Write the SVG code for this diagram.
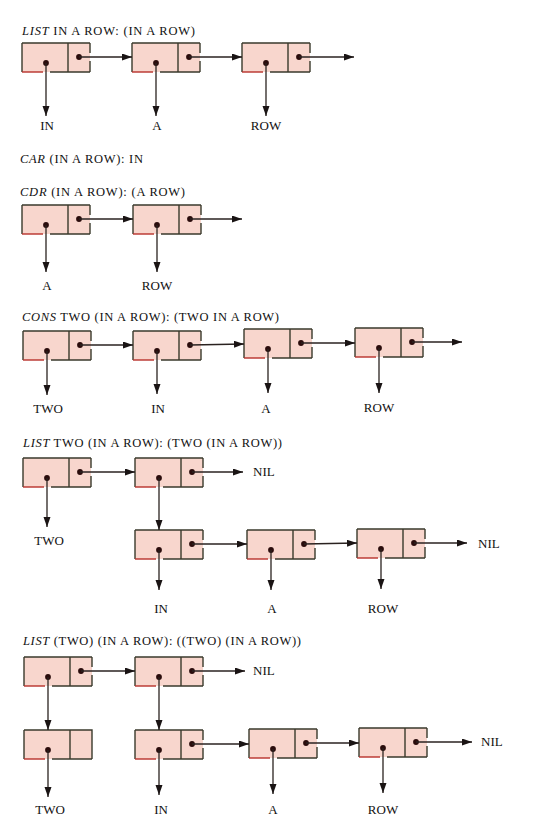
<svg xmlns="http://www.w3.org/2000/svg" xmlns:xlink="http://www.w3.org/1999/xlink" width="533" height="833" viewBox="0 0 533 833">
<style>
text{font-family:"Liberation Serif","Times New Roman",serif;fill:#111}
.t{font-size:12.5px}
.l{font-size:13px;text-anchor:middle}
.n{font-size:13px}
.c line{stroke:#2a2220;stroke-width:1.3;marker-end:url(#ah)}
</style>
<defs>
<marker id="ah" markerUnits="userSpaceOnUse" markerWidth="11" markerHeight="8" refX="10" refY="3.5" orient="auto">
<path d="M0,0 L10,3.5 L0,7 Z" fill="#1a1414"/>
</marker>
<g id="cons">
<rect width="68" height="29" fill="#f8d6cd"/>
<path d="M0,0 H68 M0,0 V29 M46,0 V29 M68,0 V10 M68,18 V29 M28,29 H68" stroke="#3a3a2c" stroke-width="1.4" fill="none"/>
<path d="M0,29 H21" stroke="#b8302a" stroke-width="1.4"/>
<circle cx="24" cy="20" r="2.9" fill="#2a0c0c"/>
<circle cx="57" cy="14" r="2.9" fill="#2a0c0c"/>
</g>
<g id="consEnd">
<rect width="68" height="29" fill="#f8d6cd"/>
<path d="M0,0 H68 V29 M0,0 V29 M46,0 V29 M28,29 H68" stroke="#3a3a2c" stroke-width="1.4" fill="none"/>
<path d="M0,29 H21" stroke="#b8302a" stroke-width="1.4"/>
<circle cx="24" cy="20" r="2.9" fill="#2a0c0c"/>
</g>
</defs>
<rect width="533" height="833" fill="#ffffff"/>

<!-- Titles -->
<g id="titles">
<text class="t" x="22" y="35" textLength="173" lengthAdjust="spacing"><tspan font-style="italic">LIST</tspan> IN A ROW: (IN A ROW)</text>
<text class="t" x="20" y="163" textLength="123" lengthAdjust="spacing"><tspan font-style="italic">CAR</tspan> (IN A ROW): IN</text>
<text class="t" x="20" y="196" textLength="165" lengthAdjust="spacing"><tspan font-style="italic">CDR</tspan> (IN A ROW): (A ROW)</text>
<text class="t" x="22" y="321" textLength="257" lengthAdjust="spacing"><tspan font-style="italic">CONS</tspan> TWO (IN A ROW): (TWO IN A ROW)</text>
<text class="t" x="23" y="447" textLength="259" lengthAdjust="spacing"><tspan font-style="italic">LIST</tspan> TWO (IN A ROW): (TWO (IN A ROW))</text>
<text class="t" x="23" y="645" textLength="278" lengthAdjust="spacing"><tspan font-style="italic">LIST</tspan> (TWO) (IN A ROW): ((TWO) (IN A ROW))</text>
</g>

<!-- Section 1 -->
<g id="s1n1"><use xlink:href="#cons" x="22" y="43"/></g>
<g id="s1n2"><use xlink:href="#cons" x="132" y="43"/></g>
<g id="s1n3"><use xlink:href="#cons" x="242" y="43"/></g>
<g id="s1c" class="c">
<line x1="79" y1="57" x2="132" y2="57"/>
<line x1="189" y1="57" x2="242" y2="57"/>
<line x1="299" y1="57" x2="354" y2="57"/>
<line x1="46" y1="63" x2="46" y2="116"/>
<line x1="156" y1="63" x2="156" y2="116"/>
<line x1="266" y1="63" x2="266" y2="116"/>
</g>
<g id="s1l">
<text class="l" x="47" y="130">IN</text>
<text class="l" x="157" y="130">A</text>
<text class="l" x="266" y="130">ROW</text>
</g>

<!-- Section 2 -->
<g id="s2n1"><use xlink:href="#cons" x="22" y="205"/></g>
<g id="s2n2"><use xlink:href="#cons" x="133" y="205"/></g>
<g id="s2c" class="c">
<line x1="79" y1="219" x2="133" y2="219"/>
<line x1="190" y1="219" x2="242" y2="219"/>
<line x1="46" y1="225" x2="46" y2="272"/>
<line x1="157" y1="225" x2="157" y2="272"/>
</g>
<g id="s2l">
<text class="l" x="47" y="290">A</text>
<text class="l" x="157" y="290">ROW</text>
</g>

<!-- Section 3 -->
<g id="s3n1"><use xlink:href="#cons" x="23" y="331"/></g>
<g id="s3n2"><use xlink:href="#cons" x="133" y="331"/></g>
<g id="s3n3"><use xlink:href="#cons" x="244" y="329"/></g>
<g id="s3n4"><use xlink:href="#cons" x="355" y="328"/></g>
<g id="s3c" class="c">
<line x1="80" y1="345" x2="133" y2="345"/>
<line x1="190" y1="345" x2="244" y2="344"/>
<line x1="301" y1="343" x2="355" y2="343"/>
<line x1="412" y1="342" x2="462" y2="342"/>
<line x1="47" y1="351" x2="47" y2="395"/>
<line x1="157" y1="351" x2="157" y2="394"/>
<line x1="268" y1="349" x2="268" y2="393"/>
<line x1="379" y1="348" x2="379" y2="393"/>
</g>
<g id="s3l">
<text class="l" x="48" y="413">TWO</text>
<text class="l" x="158" y="413">IN</text>
<text class="l" x="266" y="413">A</text>
<text class="l" x="379" y="412">ROW</text>
</g>

<!-- Section 4 -->
<g id="s4n1"><use xlink:href="#cons" x="23" y="458"/></g>
<g id="s4n2"><use xlink:href="#cons" x="135" y="458"/></g>
<g id="s4n3"><use xlink:href="#cons" x="135" y="530"/></g>
<g id="s4n4"><use xlink:href="#cons" x="247" y="530"/></g>
<g id="s4n5"><use xlink:href="#cons" x="357" y="529"/></g>
<g id="s4c" class="c">
<line x1="80" y1="472" x2="135" y2="472"/>
<line x1="192" y1="472" x2="243" y2="472"/>
<line x1="47" y1="478" x2="47" y2="527"/>
<line x1="159" y1="478" x2="159" y2="530"/>
<line x1="192" y1="544" x2="247" y2="544"/>
<line x1="304" y1="544" x2="357" y2="543"/>
<line x1="414" y1="543" x2="467" y2="543"/>
<line x1="159" y1="550" x2="159" y2="590"/>
<line x1="271" y1="550" x2="271" y2="590"/>
<line x1="381" y1="549" x2="381" y2="589"/>
</g>
<g id="s4l">
<text class="n" x="253" y="476">NIL</text>
<text class="l" x="49" y="545">TWO</text>
<text class="n" x="478" y="548">NIL</text>
<text class="l" x="161" y="613">IN</text>
<text class="l" x="272" y="613">A</text>
<text class="l" x="383" y="613">ROW</text>
</g>

<!-- Section 5 -->
<g id="s5n1"><use xlink:href="#cons" x="24" y="657"/></g>
<g id="s5n2"><use xlink:href="#cons" x="135" y="657"/></g>
<g id="s5n3"><use xlink:href="#consEnd" x="24" y="730"/></g>
<g id="s5n4"><use xlink:href="#cons" x="135" y="730"/></g>
<g id="s5n5"><use xlink:href="#cons" x="249" y="729"/></g>
<g id="s5n6"><use xlink:href="#cons" x="359" y="728"/></g>
<g id="s5c" class="c">
<line x1="81" y1="671" x2="135" y2="671"/>
<line x1="192" y1="671" x2="245" y2="671"/>
<line x1="48" y1="677" x2="48" y2="730"/>
<line x1="159" y1="677" x2="159" y2="730"/>
<line x1="192" y1="744" x2="249" y2="744"/>
<line x1="306" y1="743" x2="359" y2="743"/>
<line x1="416" y1="742" x2="472" y2="742"/>
<line x1="48" y1="750" x2="48" y2="797"/>
<line x1="159" y1="750" x2="159" y2="795"/>
<line x1="273" y1="749" x2="273" y2="794"/>
<line x1="383" y1="748" x2="383" y2="793"/>
</g>
<g id="s5l">
<text class="n" x="253" y="675">NIL</text>
<text class="n" x="481" y="746">NIL</text>
<text class="l" x="50" y="814">TWO</text>
<text class="l" x="161" y="814">IN</text>
<text class="l" x="273" y="814">A</text>
<text class="l" x="383" y="814">ROW</text>
</g>
</svg>
